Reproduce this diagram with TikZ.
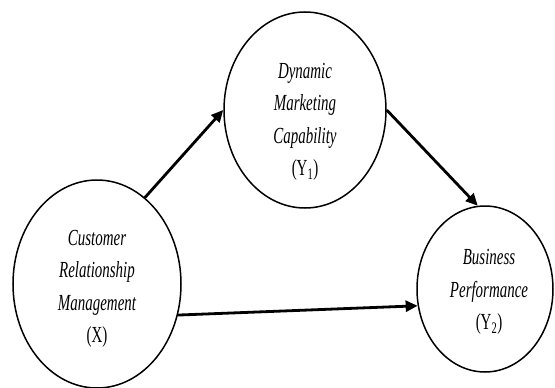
\documentclass[tikz,border=0pt]{standalone}
\usepackage{fontspec}
\setmainfont{Liberation Serif}
\newfontfamily\lblfont[FakeStretch=0.65]{Liberation Serif}
\usetikzlibrary{shapes.geometric,arrows.meta}
\begin{document}
\begin{tikzpicture}[x=1pt,y=-1pt,
  construct/.style={draw,ellipse,line width=1.5pt,inner sep=0pt},
  lbl/.style={align=center,inner sep=0pt,font=\lblfont\fontsize{23}{32.5}\selectfont},
  path/.style={line width=2.8pt,-{Triangle[length=12pt,width=11pt]}}]
  \useasboundingbox (0,0) rectangle (555,388);
  % latent constructs
  \node[construct,minimum width=162pt,minimum height=196pt] (Y1) at (305,110) {};
  \node[construct,minimum width=168pt,minimum height=208pt] (X) at (97,284) {};
  \node[construct,minimum width=136pt,minimum height=166pt] (Y2) at (485,289) {};
  % construct labels
  \node[lbl] (tY1) at (305,122) {\itshape Dynamic\\ \itshape Marketing\\ \itshape Capability\\ (Y\textsubscript{1})};
  \node[lbl] (tX) at (97,289) {\itshape Customer\\ \itshape Relationship\\ \itshape Management\\ (X)};
  \node[lbl] (tY2) at (489,292) {\itshape Business\\ \itshape Performance\\ (Y\textsubscript{2})};
  % structural paths
  \draw[path] (X.61) -- (Y1.west);
  \draw[path] (Y1.east) -- (Y2.95);
  \draw[path] (X.-21) -- (Y2.194);
\end{tikzpicture}
\end{document}
